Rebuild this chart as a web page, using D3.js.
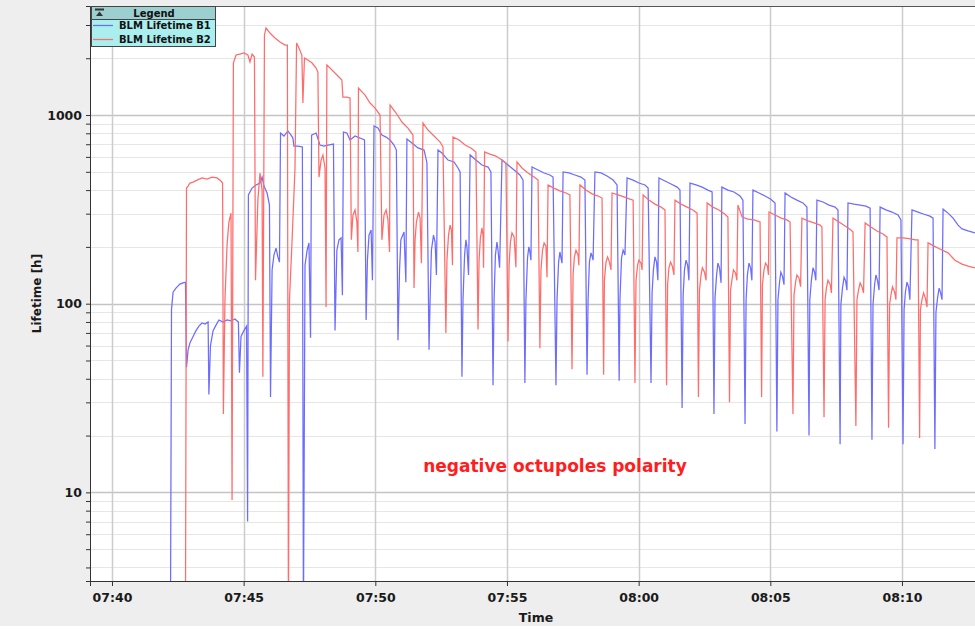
<!DOCTYPE html>
<html>
<head>
<meta charset="utf-8">
<script src="https://cdn.jsdelivr.net/npm/d3@7"></script>
<style>
  body { margin: 0; background: #eeeeee; }
  text { font-family: "DejaVu Sans", sans-serif; font-weight: bold; }
</style>
</head>
<body>
<div id="chart"></div>
<script>
// [minutes after 07:00, lifetime in hours]
var b1Lifetime = [
  [42.22,2],[42.26,93],[42.32,115],[42.43,121],[42.58,127],[42.70,129],[42.79,130],
  [42.83,46],[42.89,57],[42.96,62],[43.08,67],[43.19,72],[43.30,76],[43.42,79],[43.53,78],[43.65,80],
  [43.68,33],[43.74,60],[43.84,72],[43.95,77],[44.06,82],[44.22,80],[44.37,82],[44.52,81],[44.67,83],[44.80,80],
  [44.84,43],[44.90,67],[45.01,72],[45.11,76],
  [45.15,7],[45.18,377],[45.32,410],[45.47,426],[45.62,436],[45.70,469],[45.77,420],[45.89,386],[45.98,333],
  [46.02,32],[46.08,151],[46.15,181],[46.23,197],[46.30,177],[46.36,166],
  [46.40,803],[46.53,774],[46.68,823],[46.80,783],[46.87,755],[46.91,685],[47.06,685],[47.23,677],
  [47.27,2],[47.33,160],[47.41,192],[47.48,210],[47.54,66],
  [47.58,783],[47.75,803],[47.90,693],[48.05,685],[48.20,693],[48.41,702],
  [48.47,72],[48.54,192],[48.62,218],[48.70,223],[48.75,111],
  [48.79,813],[48.92,803],[49.04,737],[49.23,774],[49.42,755],[49.59,737],
  [49.65,82],[49.70,170],[49.76,231],[49.84,246],[49.89,133],
  [49.95,874],[50.10,853],[50.25,783],[50.41,764],[50.56,737],[50.71,693],[50.80,652],
  [50.86,64],[50.92,151],[50.97,218],[51.09,240],[51.16,130],
  [51.20,746],[51.39,711],[51.62,669],[51.85,652],[51.92,592],[51.96,557],[52.04,57],[52.08,105],[52.13,192],[52.21,231],[52.27,212],[52.32,142],
  [52.38,652],[52.53,629],[52.76,577],[52.99,564],[53.14,524],[53.22,499],[53.29,41],[53.33,105],[53.39,181],[53.44,218],[53.48,200],[53.54,142],
  [53.60,614],[53.82,577],[54.05,543],[54.28,530],[54.39,499],[54.47,37],[54.51,105],[54.56,181],[54.62,212],[54.66,192],[54.72,155],
  [54.81,577],[55.04,543],[55.27,511],[55.49,481],[55.61,452],[55.68,38],[55.72,105],[55.78,175],[55.83,200],[55.87,188],[55.91,170],
  [55.95,530],[56.18,511],[56.41,493],[56.63,481],[56.75,469],[56.86,37],[56.90,105],[56.96,166],[57.01,188],[57.05,175],[57.09,164],
  [57.13,499],[57.35,493],[57.58,481],[57.81,469],[57.96,452],[58.04,42],[58.08,105],[58.13,166],[58.19,186],[58.23,179],[58.27,170],
  [58.34,499],[58.57,493],[58.80,475],[59.03,452],[59.18,426],[59.26,39],[59.29,105],[59.35,175],[59.41,192],[59.45,186],[59.48,181],
  [59.56,464],[59.79,452],[60.01,436],[60.24,426],[60.36,410],[60.47,38],[60.51,114],[60.56,151],[60.62,177],[60.68,166],[60.73,133],
  [60.77,464],[61.00,447],[61.23,431],[61.46,415],[61.57,400],[61.65,28],[61.69,111],[61.74,151],[61.80,170],[61.86,160],[61.91,133],
  [61.95,436],[62.18,426],[62.41,415],[62.63,400],[62.79,391],[62.86,26],[62.90,107],[62.96,142],[63.01,164],[63.07,155],[63.13,129],
  [63.16,415],[63.39,400],[63.62,391],[63.85,372],[63.96,354],[64.04,23],[64.08,105],[64.13,142],[64.19,164],[64.25,155],[64.30,133],
  [64.34,400],[64.57,386],[64.80,372],[65.02,358],[65.18,342],[65.25,21],[65.29,105],[65.35,130],[65.40,147],[65.46,140],[65.52,126],
  [65.56,386],[65.78,368],[66.01,354],[66.24,342],[66.39,325],[66.47,20],[66.50,105],[66.56,133],[66.62,155],[66.68,147],[66.73,133],
  [66.77,354],[67.00,346],[67.23,333],[67.46,325],[67.57,314],[67.65,18],[67.68,99],[67.74,121],[67.80,138],[67.86,132],[67.91,118],
  [67.95,342],[68.18,337],[68.41,333],[68.63,329],[68.79,321],[68.86,19],[68.90,99],[68.96,126],[69.01,142],[69.07,133],[69.13,118],
  [69.17,325],[69.39,314],[69.62,306],[69.85,295],[69.96,278],[70.04,18],[70.08,93],[70.13,115],[70.19,130],[70.25,123],[70.30,105],
  [70.38,314],[70.61,306],[70.84,298],[71.06,291],[71.18,284],[71.25,17],[71.29,90],[71.35,107],[71.41,121],[71.46,115],[71.52,105],
  [71.56,317],[71.75,302],[71.94,284],[72.13,261],[72.28,249],[72.51,243],[72.77,237]
];

var b2Lifetime = [
  [42.79,2],[42.83,410],[42.89,420],[42.96,436],[43.08,441],[43.23,452],[43.42,464],[43.61,458],[43.80,469],[43.99,464],[44.14,447],[44.20,436],
  [44.23,26],[44.29,105],[44.37,205],[44.44,271],[44.52,302],[44.56,9.1],
  [44.61,1887],[44.71,2080],[44.86,2105],[45.01,2132],[45.16,2080],[45.24,1910],[45.32,2105],[45.41,2030],
  [45.45,133],[45.54,354],[45.62,493],[45.70,400],[45.73,41],
  [45.79,2656],[45.85,2892],[46.00,2720],[46.19,2560],[46.38,2438],[46.57,2350],[46.66,2350],
  [46.70,2],[46.74,105],[46.84,218],[46.95,524],
  [47.01,2408],[47.10,2266],[47.21,2080],[47.25,1158],[47.31,2005],[47.44,1957],[47.60,1887],[47.75,1775],[47.82,1690],
  [47.86,469],[47.94,577],[48.01,614],[48.09,524],[48.13,96],
  [48.16,1841],[48.28,1775],[48.43,1690],[48.58,1609],[48.73,1533],[48.77,1245],[48.92,1245],[49.04,1231],
  [49.09,218],[49.15,295],[49.23,314],[49.30,271],[49.34,188],
  [49.36,1390],[49.61,1276],[49.80,1158],[49.99,1089],[50.18,1000],
  [50.25,218],[50.33,295],[50.41,314],[50.48,278],[50.54,188],
  [50.56,1130],[50.79,1025],[51.01,918],[51.24,853],[51.43,783],[51.47,121],[51.51,218],[51.56,271],[51.64,306],[51.70,284],[51.75,164],
  [51.81,907],[52.00,833],[52.23,774],[52.46,719],[52.57,677],[52.68,70],[52.72,170],[52.78,231],[52.84,261],[52.89,246],[52.93,160],
  [52.95,764],[53.18,737],[53.41,693],[53.63,669],[53.82,637],[53.90,73],[53.94,170],[53.99,223],[54.05,252],[54.09,231],[54.11,155],
  [54.15,637],[54.35,621],[54.58,606],[54.81,577],[54.96,557],[55.04,63],[55.08,160],[55.13,212],[55.19,237],[55.27,226],[55.34,156],
  [55.38,564],[55.57,524],[55.80,493],[56.03,469],[56.18,452],[56.25,58],[56.29,151],[56.35,192],[56.41,210],[56.48,202],[56.52,138],
  [56.56,426],[56.78,410],[57.01,396],[57.24,386],[57.39,377],[57.47,45],[57.51,142],[57.56,177],[57.62,192],[57.70,181],[57.73,160],
  [57.77,426],[58.00,400],[58.23,382],[58.46,372],[58.61,363],[58.67,42],[58.70,133],[58.76,166],[58.82,177],[58.89,166],[58.95,151],
  [58.99,386],[59.22,377],[59.44,368],[59.67,358],[59.79,354],[59.86,38],[59.90,133],[59.96,160],[60.01,170],[60.09,164],[60.13,151],
  [60.17,377],[60.39,354],[60.62,337],[60.85,325],[61.00,314],[61.06,37],[61.10,126],[61.15,155],[61.21,166],[61.28,158],[61.34,142],
  [61.38,354],[61.61,337],[61.84,325],[62.06,314],[62.22,302],[62.27,32],[62.31,118],[62.37,142],[62.42,155],[62.50,147],[62.56,133],
  [62.60,342],[62.82,325],[63.05,314],[63.28,298],[63.39,288],[63.45,30],[63.49,118],[63.55,136],[63.60,151],[63.68,145],[63.73,133],
  [63.77,333],[63.93,288],[64.15,281],[64.38,278],[64.61,271],[64.67,32],[64.70,126],[64.76,151],[64.82,164],[64.89,158],[64.93,142],
  [64.95,306],[65.18,295],[65.41,284],[65.63,278],[65.75,271],[65.86,26],[65.90,111],[65.96,130],[66.01,142],[66.09,137],[66.15,123],
  [66.20,284],[66.43,275],[66.66,268],[66.89,261],[66.96,255],[67.04,25],[67.08,105],[67.13,121],[67.19,133],[67.27,127],[67.32,114],
  [67.38,284],[67.61,271],[67.84,258],[68.06,246],[68.14,240],[68.25,22.5],[68.29,105],[68.35,118],[68.41,129],[68.48,123],[68.54,114],
  [68.60,268],[68.82,255],[69.05,243],[69.28,234],[69.43,226],[69.49,22],[69.53,99],[69.58,111],[69.64,123],[69.72,115],[69.77,105],
  [69.81,223],[70.04,223],[70.27,221],[70.50,218],[70.61,218],[70.67,19.4],[70.70,93],[70.76,105],[70.82,114],[70.89,107],[70.95,96],
  [70.99,210],[71.22,202],[71.44,195],[71.75,186],[72.01,170],[72.28,162],[72.51,158],[72.77,155]
];

var seriesNames = ["BLM Lifetime B1", "BLM Lifetime B2"];
var seriesColors = ["#6c6cff", "#ff6c6c"];
var xTickMinutes = [40, 45, 50, 55, 60, 65, 70];
var yLabelled = [10, 100, 1000];
var timeRange = [39.165, 72.773];
var lifetimeRange = [3.39, 3783];
var note = "negative octupoles polarity";

var width = 975, height = 629;
var margin = {top: 6, right: 0, bottom: 48, left: 90};
var base = new Date(2012, 5, 1, 7, 0, 0);
function at(m) { return new Date(base.getTime() + m * 60000); }

var svg = d3.select("#chart").append("svg")
    .attr("width", width)
    .attr("height", height);

svg.append("rect").attr("width", width).attr("height", height).attr("fill", "#eeeeee");
svg.append("rect").attr("x", 0).attr("y", height - 3).attr("width", width).attr("height", 3).attr("fill", "#ffffff");

var x = d3.scaleTime()
    .domain(timeRange.map(at))
    .range([margin.left, width - margin.right]);

var y = d3.scaleLog()
    .domain(lifetimeRange)
    .range([height - margin.bottom, margin.top]);

var plotW = width - margin.right - margin.left;
var plotH = height - margin.bottom - margin.top;

svg.append("rect")
    .attr("x", margin.left).attr("y", margin.top)
    .attr("width", plotW).attr("height", plotH)
    .attr("fill", "#ffffff");

svg.append("clipPath").attr("id", "plot-clip")
  .append("rect")
    .attr("x", margin.left).attr("y", margin.top)
    .attr("width", plotW).attr("height", plotH);

// grid
var yTicks = y.ticks();
svg.append("g").selectAll("line")
    .data(yTicks)
    .enter().append("line")
    .attr("x1", margin.left).attr("x2", width)
    .attr("y1", function(d) { return Math.round(y(d)) + 0.5; })
    .attr("y2", function(d) { return Math.round(y(d)) + 0.5; })
    .attr("stroke", function(d) { return yLabelled.indexOf(d) >= 0 ? "#c4c4c4" : "#e6e6e6"; })
    .attr("stroke-width", function(d) { return yLabelled.indexOf(d) >= 0 ? 1.5 : 1; });

svg.append("g").selectAll("line")
    .data(xTickMinutes)
    .enter().append("line")
    .attr("x1", function(d) { return Math.round(x(at(d))) + 0.5; })
    .attr("x2", function(d) { return Math.round(x(at(d))) + 0.5; })
    .attr("y1", margin.top).attr("y2", height - margin.bottom)
    .attr("stroke", "#cccccc")
    .attr("stroke-width", 1.5);

// series
var line = d3.line()
    .x(function(d) { return x(at(d[0])); })
    .y(function(d) { return y(d[1]); });

var lines = svg.append("g").attr("clip-path", "url(#plot-clip)");
[b1Lifetime, b2Lifetime].forEach(function(s, i) {
  lines.append("path")
    .datum(s)
    .attr("fill", "none")
    .attr("stroke", seriesColors[i])
    .attr("stroke-width", 1.25)
    .attr("d", line);
});

// axes
var xAxis = d3.axisBottom(x)
    .tickValues(xTickMinutes.map(at))
    .tickFormat(d3.timeFormat("%H:%M"))
    .tickSize(5)
    .tickPadding(7);

var gx = svg.append("g")
    .attr("transform", "translate(0," + (height - margin.bottom) + ")")
    .call(xAxis);
gx.select(".domain").attr("stroke", "#333");
gx.selectAll(".tick line").attr("stroke", "#333");
gx.selectAll("text").attr("font-size", "12.5px").attr("fill", "#1a1a1a")
    .attr("font-family", "DejaVu Sans").attr("font-weight", "bold");

var yAxis = d3.axisLeft(y)
    .tickValues(yTicks)
    .tickFormat(function(d) { return yLabelled.indexOf(d) >= 0 ? d : ""; })
    .tickSize(4)
    .tickPadding(4);

var gy = svg.append("g")
    .attr("transform", "translate(" + margin.left + ",0)")
    .call(yAxis);
gy.select(".domain").attr("stroke", "#333");
gy.selectAll(".tick line").attr("stroke", "#333");
gy.selectAll("text").attr("font-size", "12.5px").attr("fill", "#1a1a1a")
    .attr("font-family", "DejaVu Sans").attr("font-weight", "bold");

svg.append("line")
    .attr("x1", margin.left).attr("x2", width)
    .attr("y1", margin.top + 0.5).attr("y2", margin.top + 0.5)
    .attr("stroke", "#555");

// axis titles
svg.append("text")
    .attr("transform", "translate(41," + ((margin.top + height - margin.bottom) / 2) + ") rotate(-90)")
    .attr("text-anchor", "middle")
    .attr("font-size", "12px")
    .attr("fill", "#1a1a1a")
    .text("Lifetime [h]");

svg.append("text")
    .attr("x", 536).attr("y", 622)
    .attr("text-anchor", "middle")
    .attr("font-size", "12.5px")
    .attr("fill", "#1a1a1a")
    .text("Time");

// note
svg.append("text")
    .attr("x", 555).attr("y", 472)
    .attr("text-anchor", "middle")
    .attr("font-size", "17px")
    .attr("fill", "#ff1e1e")
    .text(note);

// legend
var lg = svg.append("g").attr("transform", "translate(91,6)");
lg.append("rect").attr("width", 125).attr("height", 41).attr("fill", "#aaeeee");
lg.append("rect").attr("width", 125).attr("height", 13).attr("fill", "#9ccfcf");
lg.append("line").attr("x1", 0).attr("x2", 125).attr("y1", 13.5).attr("y2", 13.5).attr("stroke", "#444");
lg.append("rect").attr("x", 0.5).attr("y", 0.5).attr("width", 124).attr("height", 40)
    .attr("fill", "none").attr("stroke", "#444");
lg.append("rect").attr("x", 4).attr("y", 2.5).attr("width", 9).attr("height", 2).attr("fill", "#333");
lg.append("path").attr("d", "M5,10 L12,10 L8.5,5.5 Z").attr("fill", "#333");
lg.append("text").attr("x", 63).attr("y", 11).attr("text-anchor", "middle")
    .attr("font-size", "10px").attr("fill", "#111").text("Legend");

seriesNames.forEach(function(n, i) {
  var yy = 19.5 + i * 14;
  lg.append("line").attr("x1", 2).attr("x2", 22).attr("y1", yy).attr("y2", yy)
      .attr("stroke", seriesColors[i]).attr("stroke-width", 1.25);
  lg.append("text").attr("x", 28).attr("y", yy + 3.5)
      .attr("font-size", "10px").attr("fill", "#111").text(n);
});
</script>
</body>
</html>
